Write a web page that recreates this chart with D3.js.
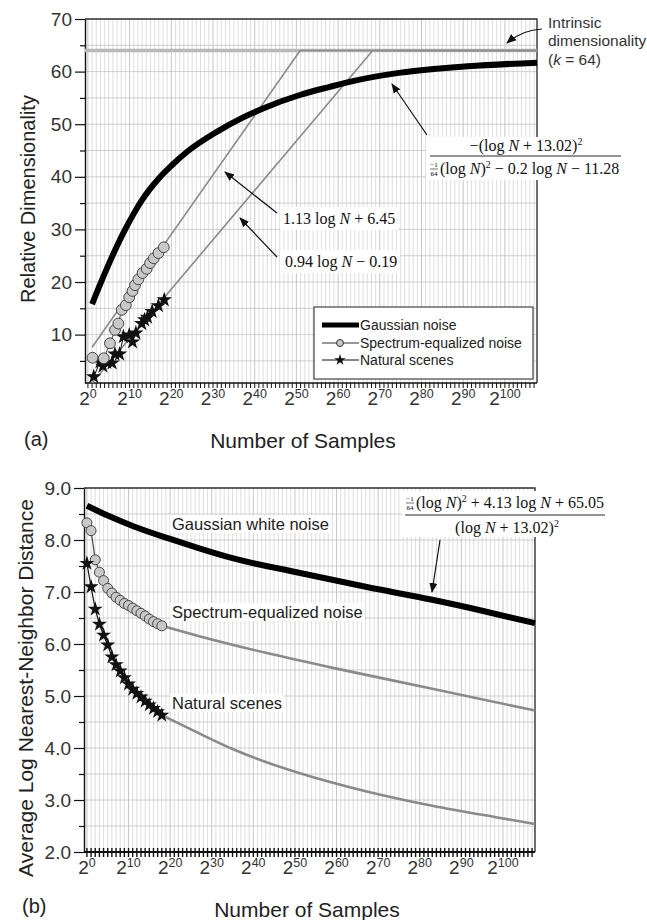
<!DOCTYPE html>
<html>
<head>
<meta charset="utf-8">
<script src="https://cdn.jsdelivr.net/npm/d3@7"></script>
<style>
body { margin: 0; background: #fff; }
svg { display: block; }
</style>
</head>
<body>
<script>
// Relative dimensionality / nearest-neighbor distance vs number of samples

// Tick values (exponents of 2)
const expTicks = [0, 10, 20, 30, 40, 50, 60, 70, 80, 90, 100];
const dimTicks = [10, 20, 30, 40, 50, 60, 70];
const dimMinor = [5, 15, 25, 35, 45, 55, 65];
const distTicks = [2, 3, 4, 5, 6, 7, 8, 9];
const distMinor = [2.5, 3.5, 4.5, 5.5, 6.5, 7.5, 8.5];

// (a) Gaussian noise curve
const gaussExp = [1, 3, 5, 7, 9, 11, 13, 15, 17, 20, 24, 31, 37, 42, 51, 58, 63, 75, 91, 107.7];
const gaussDim = [15.8, 19.7, 23.4, 26.9, 30.1, 33.0, 35.6, 37.8, 39.7, 42.1, 44.9, 48.6, 51.2, 53.0, 55.6, 57.1, 58.1, 59.8, 61.0, 61.7];

// (a) Spectrum-equalized noise points
const specExp = [1.1, 3.8, 5.3, 6.5, 7.3, 8.1, 9.1, 9.9, 10.7, 11.3, 12.1, 13.1, 14.1, 14.9, 15.8, 16.9, 18.2];
const specDim = [5.6, 5.5, 8.35, 10.9, 12.1, 14.7, 15.6, 17.1, 18.3, 19.4, 20.5, 21.7, 22.5, 23.6, 24.5, 25.5, 26.6];

// (a) Natural scenes points
const natExp = [1.4, 2.9, 3.6, 4.5, 5.8, 6.5, 7.6, 8.5, 9.9, 10.7, 11.5, 12.9, 13.6, 14.3, 15.4, 16.9, 18.3];
const natDim = [2.0, 4.8, 4.0, 4.7, 4.6, 6.3, 6.3, 9.6, 9.9, 8.6, 10.3, 12.1, 12.8, 13.3, 14.4, 15.5, 16.6];

// (a) Fitted lines, capped at the intrinsic dimensionality
const fitSpecExp = [1, 50.9, 107.7];
const fitSpecDim = [7.6, 64, 64];
const fitNatExp = [1, 68.3, 107.7];
const fitNatDim = [0.8, 64, 64];
const intrinsicK = 64;

// (b) Gaussian white noise curve
const gDistExp = [0, 5, 11, 20, 27, 35, 51, 67, 83, 95, 107.7];
const gDist = [8.66, 8.47, 8.27, 8.02, 7.84, 7.65, 7.37, 7.10, 6.85, 6.64, 6.40];

// (b) Spectrum-equalized noise points and extrapolation
const sDistExp = [0, 1, 2, 3, 4, 5, 6, 7, 8, 9, 10, 11, 12, 13, 14, 15, 16, 17, 18];
const sDist = [8.33, 8.18, 7.62, 7.38, 7.22, 7.07, 6.98, 6.90, 6.84, 6.78, 6.74, 6.69, 6.64, 6.59, 6.54, 6.48, 6.43, 6.39, 6.35];
const sTailExp = [18, 27, 43, 58, 83, 107.7];
const sTail = [6.35, 6.15, 5.83, 5.56, 5.14, 4.72];

// (b) Natural scenes points and extrapolation
const nDistExp = [0, 1, 2, 3, 4, 5, 6, 7, 8, 9, 10, 11, 12, 13, 14, 15, 16, 17, 18];
const nDist = [7.55, 7.10, 6.67, 6.38, 6.17, 5.98, 5.75, 5.60, 5.48, 5.35, 5.23, 5.13, 5.05, 4.98, 4.90, 4.83, 4.76, 4.70, 4.63];
const nTailExp = [18, 27, 35, 43, 51, 67, 83, 99, 107.7];
const nTail = [4.63, 4.28, 3.98, 3.73, 3.52, 3.17, 2.89, 2.66, 2.54];

// Layout
const W = 647, H = 920;
const xDomain = [-0.7, 107.7];
const sans = "'Liberation Sans', Arial, sans-serif";
const serif = "'Liberation Serif', 'Times New Roman', serif";

const svg = d3.select("body").append("svg")
    .attr("width", W)
    .attr("height", H);

// Arrow head marker
svg.append("defs").append("marker")
    .attr("id", "arrow")
    .attr("viewBox", "0 0 10 10")
    .attr("refX", 9).attr("refY", 5)
    .attr("markerWidth", 10).attr("markerHeight", 10)
    .attr("markerUnits", "userSpaceOnUse")
    .attr("orient", "auto")
    .append("path")
    .attr("d", "M0,1 L10,5 L0,9 Z")
    .attr("fill", "#111");

const zip = (a, b) => a.map((v, i) => [v, b[i]]);

// Shared panel frame: grid, axes, tick labels
function panel(box, yDomain, yMajor, yMinor, yFmt, gridStep, crossTicks) {
    const x = d3.scaleLinear().domain(xDomain).range([box.left, box.right]);
    const y = d3.scaleLinear().domain(yDomain).range([box.bottom, box.top]);
    const g = svg.append("g");

    // vertical grid, one line per power of two
    g.append("g").selectAll("line")
        .data(d3.range(0, 108))
        .join("line")
        .attr("x1", d => x(d)).attr("x2", d => x(d))
        .attr("y1", box.top).attr("y2", box.bottom)
        .attr("stroke", d => d % 10 === 0 ? "#b8b8b8" : "#d6d6d6")
        .attr("stroke-width", 0.8);

    // horizontal grid
    g.append("g").selectAll("line")
        .data(d3.range(yDomain[0], yDomain[1] + 1e-6, gridStep).map(v => Math.ceil(v / gridStep - 1e-6) * gridStep))
        .join("line")
        .attr("x1", box.left).attr("x2", box.right)
        .attr("y1", d => y(d)).attr("y2", d => y(d))
        .attr("stroke", "#c4c4c4")
        .attr("stroke-width", 0.8);

    // frame top / right
    g.append("path")
        .attr("d", `M${box.left},${box.top} H${box.right} V${box.bottom}`)
        .attr("fill", "none").attr("stroke", "#333").attr("stroke-width", 1.4);

    // x ticks (every exponent)
    g.append("g").selectAll("line")
        .data(d3.range(0, 108))
        .join("line")
        .attr("x1", d => x(d)).attr("x2", d => x(d))
        .attr("y1", crossTicks ? box.bottom - 4 : box.bottom)
        .attr("y2", box.bottom + 5)
        .attr("stroke", "#111")
        .attr("stroke-width", crossTicks ? 1.4 : 1);

    g.append("line")
        .attr("x1", box.left).attr("x2", box.right)
        .attr("y1", box.bottom).attr("y2", box.bottom)
        .attr("stroke", "#111").attr("stroke-width", crossTicks ? 2 : 1.4);

    // x tick labels 2^n
    const xl = g.append("g").selectAll("text")
        .data(expTicks)
        .join("text")
        .attr("x", d => x(d))
        .attr("y", box.bottom + 22)
        .attr("text-anchor", "middle")
        .style("font-family", sans)
        .style("font-size", "19px")
        .attr("fill", "#333");
    xl.append("tspan").text("2");
    xl.append("tspan").attr("dy", -7).style("font-size", "12.5px").text(d => d);

    // y axis
    const leftAxis = d3.axisLeft(y)
        .tickValues(yMajor)
        .tickSize(10)
        .tickSizeOuter(0)
        .tickFormat(yFmt);
    const ya = g.append("g")
        .attr("transform", `translate(${box.left},0)`)
        .call(leftAxis);
    ya.select(".domain").attr("stroke", "#111").attr("stroke-width", 1.4);
    ya.selectAll(".tick line").attr("stroke", "#111").attr("stroke-width", 1.2);
    ya.selectAll(".tick text")
        .attr("x", -13)
        .style("font-family", sans)
        .style("font-size", "19px")
        .attr("fill", "#333");

    const minorAxis = d3.axisLeft(y).tickValues(yMinor).tickSize(5).tickFormat("");
    const ym = g.append("g")
        .attr("transform", `translate(${box.left},0)`)
        .call(minorAxis);
    ym.select(".domain").remove();
    ym.selectAll(".tick line").attr("stroke", "#111").attr("stroke-width", 1.2);

    return {x, y, g};
}

// Rich text with italic N and superscripts
function rich(sel, xPos, yPos, parts, size, anchor) {
    const t = sel.append("text")
        .attr("x", xPos).attr("y", yPos)
        .attr("text-anchor", anchor || "start")
        .style("font-family", serif)
        .style("font-size", size + "px")
        .attr("fill", "#111");
    let shift = 0;
    parts.forEach(p => {
        const s = t.append("tspan").text(p[0]);
        if (p[1] === "i") s.style("font-style", "italic");
        if (p[1] === "sup") {
            s.attr("dy", -6).style("font-size", (size * 0.62) + "px");
            shift = 6;
        } else if (shift) {
            s.attr("dy", shift);
            shift = 0;
        }
    });
    return t;
}

// Tiny stacked fraction -1/64
function tinyFrac(sel, cx, cy) {
    sel.append("text").attr("x", cx).attr("y", cy - 2).attr("text-anchor", "middle")
        .style("font-family", serif).style("font-size", "7px").text("−1");
    sel.append("line").attr("x1", cx - 4).attr("x2", cx + 4).attr("y1", cy).attr("y2", cy)
        .attr("stroke", "#111").attr("stroke-width", 0.6);
    sel.append("text").attr("x", cx).attr("y", cy + 7).attr("text-anchor", "middle")
        .style("font-family", serif).style("font-size", "7px").text("64");
}

function arrow(sel, d) {
    sel.append("path")
        .attr("d", d)
        .attr("fill", "none")
        .attr("stroke", "#111")
        .attr("stroke-width", 1.2)
        .attr("marker-end", "url(#arrow)");
}

function whiteBox(sel, x0, y0, w, h) {
    sel.append("rect").attr("x", x0).attr("y", y0).attr("width", w).attr("height", h).attr("fill", "#fff");
}

const star = (size) => d3.symbol().type(d3.symbolStar).size(size);

// ---------------- Panel (a) ----------------
const A = panel({left: 85, right: 537, top: 19, bottom: 383}, [0.8, 70], dimTicks, dimMinor, d3.format("d"), 5, false);

const lineA = d3.line().x(d => A.x(d[0])).y(d => A.y(d[1]));
const smoothA = d3.line().x(d => A.x(d[0])).y(d => A.y(d[1])).curve(d3.curveMonotoneX);

// intrinsic dimensionality line
A.g.append("line")
    .attr("x1", A.x(xDomain[0])).attr("x2", A.x(xDomain[1]))
    .attr("y1", A.y(intrinsicK)).attr("y2", A.y(intrinsicK))
    .attr("stroke", "#b9b9b9").attr("stroke-width", 3.5);

// fitted lines
[zip(fitSpecExp, fitSpecDim), zip(fitNatExp, fitNatDim)].forEach(pts => {
    A.g.append("path").attr("d", lineA(pts))
        .attr("fill", "none").attr("stroke", "#8a8a8a").attr("stroke-width", 1.6);
});

// Gaussian noise
A.g.append("path")
    .attr("d", smoothA(zip(gaussExp, gaussDim)))
    .attr("fill", "none").attr("stroke", "#000").attr("stroke-width", 6);

// Natural scenes
A.g.append("path").attr("d", lineA(zip(natExp, natDim)))
    .attr("fill", "none").attr("stroke", "#111").attr("stroke-width", 1);
A.g.selectAll(".starA").data(zip(natExp, natDim)).join("path")
    .attr("transform", d => `translate(${A.x(d[0])},${A.y(d[1])})`)
    .attr("d", star(75)).attr("fill", "#111");

// Spectrum-equalized noise
A.g.append("path").attr("d", lineA(zip(specExp, specDim)))
    .attr("fill", "none").attr("stroke", "#444").attr("stroke-width", 1);
A.g.selectAll(".circA").data(zip(specExp, specDim)).join("circle")
    .attr("cx", d => A.x(d[0])).attr("cy", d => A.y(d[1])).attr("r", 5.4)
    .attr("fill", "#c8c8c8").attr("stroke", "#444").attr("stroke-width", 1);

// Annotations (a)
const annA = svg.append("g");
annA.append("text").attr("x", 548).attr("y", 28)
    .style("font-family", sans).style("font-size", "15.5px").attr("fill", "#333").text("Intrinsic");
annA.append("text").attr("x", 548).attr("y", 46)
    .style("font-family", sans).style("font-size", "15.5px").attr("fill", "#333").text("dimensionality");
const kt = annA.append("text").attr("x", 548).attr("y", 65)
    .style("font-family", sans).style("font-size", "15.5px").attr("fill", "#333");
kt.append("tspan").text("(");
kt.append("tspan").style("font-style", "italic").text("k");
kt.append("tspan").text(" = 64)");
arrow(annA, "M542,29 Q522,30 507,43");

whiteBox(annA, 426, 137, 196, 43);
rich(annA, 526, 151, [["−(log "], ["N", "i"], [" + 13.02)"], ["2", "sup"]], 16, "middle");
annA.append("line").attr("x1", 430).attr("x2", 621).attr("y1", 156).attr("y2", 156)
    .attr("stroke", "#111").attr("stroke-width", 0.9);
tinyFrac(annA, 434, 169);
rich(annA, 440, 174, [["(log "], ["N", "i"], [")"], ["2", "sup"], [" − 0.2 log "], ["N", "i"], [" − 11.28"]], 16, "start");
arrow(annA, "M427,135 L392,84");

whiteBox(annA, 280, 207, 118, 23);
rich(annA, 283, 224, [["1.13 log "], ["N", "i"], [" + 6.45"]], 16, "start");
arrow(annA, "M277,213 L225,172");

whiteBox(annA, 280, 250, 120, 23);
rich(annA, 285, 267, [["0.94 log "], ["N", "i"], [" − 0.19"]], 16, "start");
arrow(annA, "M277,257 L240,218");

// Legend (a)
const leg = svg.append("g");
leg.append("rect").attr("x", 314).attr("y", 307).attr("width", 219).attr("height", 72)
    .attr("fill", "#fff").attr("stroke", "#444").attr("stroke-width", 1.2);
leg.append("line").attr("x1", 322).attr("x2", 359).attr("y1", 325).attr("y2", 325)
    .attr("stroke", "#000").attr("stroke-width", 5);
leg.append("line").attr("x1", 322).attr("x2", 359).attr("y1", 343).attr("y2", 343)
    .attr("stroke", "#333").attr("stroke-width", 1);
leg.append("circle").attr("cx", 340).attr("cy", 343).attr("r", 3.5)
    .attr("fill", "#c8c8c8").attr("stroke", "#333");
leg.append("line").attr("x1", 322).attr("x2", 359).attr("y1", 360).attr("y2", 360)
    .attr("stroke", "#111").attr("stroke-width", 1);
leg.append("path").attr("transform", "translate(340,360)").attr("d", star(40)).attr("fill", "#111");
["Gaussian noise", "Spectrum-equalized noise", "Natural scenes"].forEach((t, i) => {
    leg.append("text").attr("x", 360).attr("y", 330 + i * 17.5)
        .style("font-family", sans).style("font-size", "14px").attr("fill", "#222").text(t);
});

// Axis titles (a)
svg.append("text")
    .attr("transform", "translate(35,199) rotate(-90)")
    .attr("text-anchor", "middle")
    .style("font-family", sans).style("font-size", "20px").attr("fill", "#222")
    .text("Relative Dimensionality");
svg.append("text").attr("x", 303).attr("y", 448).attr("text-anchor", "middle")
    .style("font-family", sans).style("font-size", "21px").attr("fill", "#222")
    .text("Number of Samples");
svg.append("text").attr("x", 24).attr("y", 446)
    .style("font-family", sans).style("font-size", "20px").attr("fill", "#222").text("(a)");

// ---------------- Panel (b) ----------------
const B = panel({left: 84, right: 535, top: 488, bottom: 852}, [2, 9], distTicks, distMinor, d3.format(".1f"), 0.5, true);

const lineB = d3.line().x(d => B.x(d[0])).y(d => B.y(d[1]));
const smoothB = d3.line().x(d => B.x(d[0])).y(d => B.y(d[1])).curve(d3.curveMonotoneX);

// extrapolated tails
[zip(sTailExp, sTail), zip(nTailExp, nTail)].forEach(pts => {
    B.g.append("path").attr("d", smoothB(pts))
        .attr("fill", "none").attr("stroke", "#8a8a8a").attr("stroke-width", 2.6);
});

// Gaussian white noise
B.g.append("path").attr("d", smoothB(zip(gDistExp, gDist)))
    .attr("fill", "none").attr("stroke", "#000").attr("stroke-width", 6);

// Spectrum-equalized noise
B.g.append("path").attr("d", lineB(zip(sDistExp, sDist)))
    .attr("fill", "none").attr("stroke", "#444").attr("stroke-width", 1.2);
B.g.selectAll(".circB").data(zip(sDistExp, sDist)).join("circle")
    .attr("cx", d => B.x(d[0])).attr("cy", d => B.y(d[1])).attr("r", 5)
    .attr("fill", "#c8c8c8").attr("stroke", "#444").attr("stroke-width", 1);

// Natural scenes
B.g.append("path").attr("d", lineB(zip(nDistExp, nDist)))
    .attr("fill", "none").attr("stroke", "#111").attr("stroke-width", 1.2);
B.g.selectAll(".starB").data(zip(nDistExp, nDist)).join("path")
    .attr("transform", d => `translate(${B.x(d[0])},${B.y(d[1])})`)
    .attr("d", star(70)).attr("fill", "#111");

// Annotations (b)
const annB = svg.append("g");
[["Gaussian white noise", 530], ["Spectrum-equalized noise", 618], ["Natural scenes", 709]].forEach(d => {
    const t = annB.append("text").attr("x", 172).attr("y", d[1])
        .style("font-family", sans).style("font-size", "16.5px").attr("fill", "#222").text(d[0]);
    const bb = t.node().getBBox();
    annB.insert("rect", "text").attr("x", bb.x - 2).attr("y", bb.y).attr("width", bb.width + 4).attr("height", bb.height)
        .attr("fill", "#fff");
});

whiteBox(annB, 402, 491, 210, 46);
tinyFrac(annB, 410, 503);
rich(annB, 416, 508, [["(log "], ["N", "i"], [")"], ["2", "sup"], [" + 4.13 log "], ["N", "i"], [" + 65.05"]], 16, "start");
annB.append("line").attr("x1", 405).attr("x2", 605).attr("y1", 515).attr("y2", 515)
    .attr("stroke", "#111").attr("stroke-width", 0.9);
rich(annB, 507, 533, [["(log "], ["N", "i"], [" + 13.02)"], ["2", "sup"]], 16, "middle");
arrow(annB, "M440,540 L432,592");

// Axis titles (b)
svg.append("text")
    .attr("transform", "translate(33,688) rotate(-90)")
    .attr("text-anchor", "middle")
    .style("font-family", sans).style("font-size", "21px").attr("fill", "#222")
    .text("Average Log Nearest-Neighbor Distance");
svg.append("text").attr("x", 307).attr("y", 917).attr("text-anchor", "middle")
    .style("font-family", sans).style("font-size", "21px").attr("fill", "#222")
    .text("Number of Samples");
svg.append("text").attr("x", 22).attr("y", 913)
    .style("font-family", sans).style("font-size", "20px").attr("fill", "#222").text("(b)");
</script>
</body>
</html>
